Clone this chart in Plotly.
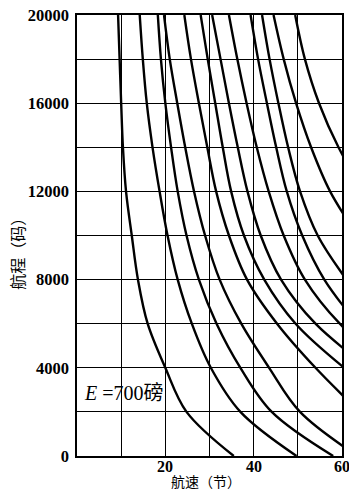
import plotly.graph_objects as go

# Range levels (码) at which each curve's speed (节) was read
range_levels = [20000, 18000, 16000, 14000, 12000, 10000, 8000, 6000, 4000, 2000, 0]

# Speeds (节) of each curve at the range levels above (curves leave the chart at the right edge)
curve_speeds = [
    [9.3, 9.65, 10.0, 10.4, 11.1, 12.4, 13.8, 16.0, 20.0, 24.8, 35.5],
    [14.2, 14.9, 15.8, 17.1, 18.7, 20.5, 22.8, 26.0, 30.3, 37.0, 49.7],
    [18.3, 19.0, 20.0, 21.3, 22.8, 24.8, 27.6, 31.6, 37.0, 44.1, 58.0],
    [19.7, 21.0, 22.7, 24.5, 26.5, 29.0, 32.3, 37.2, 43.5, 50.5, 63.5],
    [24.3, 25.8, 27.6, 29.5, 31.5, 34.4, 38.5, 45.3, 54.0, 64.0],
    [28.0, 29.6, 31.3, 33.0, 34.9, 37.8, 42.4, 49.5, 60.5],
    [30.6, 32.5, 34.4, 36.4, 38.6, 41.6, 46.2, 54.0, 66.0],
    [34.4, 36.3, 38.4, 40.7, 43.4, 46.8, 51.6, 59.5, 71.0],
    [39.3, 41.0, 43.0, 45.1, 47.5, 51.0, 56.0, 63.5],
    [41.9, 43.6, 45.6, 47.8, 50.5, 54.5, 61.0],
    [44.5, 46.8, 49.6, 53.0, 57.3, 63.5],
    [49.4, 51.6, 54.8, 59.2, 65.0],
]

x_gridvals = [0, 10, 20, 30, 40, 50, 60]
x_labelvals = [20, 40, 60]
x_labeltext = ["20", "40", "60"]
y_tickvals = [0, 2000, 4000, 6000, 8000, 10000, 12000, 14000, 16000, 18000, 20000]
y_ticktext = ["0", "", "4000", "", "8000", "", "12000", "", "16000", "", "20000"]

x_title = "航速（节）"
y_title = "航程（码）"
label_text = "<i>E</i> =700磅"

fig = go.Figure()
for speeds in curve_speeds:
    fig.add_trace(go.Scatter(
        x=speeds, y=range_levels[:len(speeds)], mode="lines",
        line=dict(color="black", width=2.4, shape="spline", smoothing=1.0),
        showlegend=False, hoverinfo="skip"))

serif = "Liberation Serif"
cjk = "Noto Sans CJK SC"

annotations = [
    dict(text=y_title, xref="paper", yref="paper", x=-0.228, y=0.467,
         textangle=-90, showarrow=False, xanchor="center", yanchor="middle",
         font=dict(family=cjk, size=16, color="black")),
    dict(text=x_title, xref="paper", yref="paper", x=0.487, y=-0.057,
         showarrow=False, xanchor="center", yanchor="middle", borderpad=0,
         font=dict(family=cjk, size=14, color="black")),
    dict(text=label_text, xref="x", yref="y", x=1.2, y=2850,
         showarrow=False, xanchor="left", yanchor="middle",
         font=dict(family=serif + ", " + cjk, size=20, color="black")),
]
for v, t in zip(x_labelvals, x_labeltext):
    annotations.append(dict(text="<b>" + t + "</b>", xref="x", yref="paper", x=v, y=0,
                            showarrow=False, xanchor="center", yanchor="top", borderpad=0,
                            yshift=-1,
                            font=dict(family=serif, size=16, color="black")))

fig.update_layout(
    width=349, height=492,
    margin=dict(l=77, r=5, t=15, b=36),
    paper_bgcolor="white", plot_bgcolor="white",
    xaxis=dict(range=[0, 60], tickvals=x_gridvals, showticklabels=False,
               showgrid=True, gridcolor="black", gridwidth=1.3,
               showline=True, linecolor="black", linewidth=1.6, mirror=True,
               zeroline=False, ticks=""),
    yaxis=dict(range=[0, 20000], tickvals=y_tickvals, ticktext=y_ticktext,
               showgrid=True, gridcolor="black", gridwidth=1.3,
               showline=True, linecolor="black", linewidth=1.6, mirror=True,
               zeroline=False, ticks="", ticklabelstandoff=3,
               tickfont=dict(family=serif, size=16.5, color="black", weight="bold")),
    annotations=annotations,
)

fig.write_html("out.html")
